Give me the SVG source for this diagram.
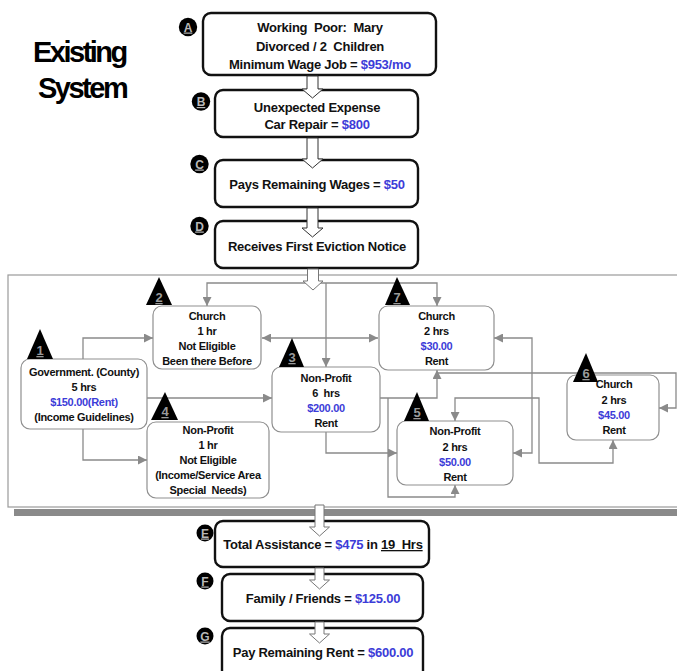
<svg xmlns="http://www.w3.org/2000/svg" width="677" height="671" viewBox="0 0 677 671">
<style>
text{font-family:"Liberation Sans",Arial,sans-serif;font-weight:bold;fill:#111;text-anchor:middle}
.t{font-size:13px;letter-spacing:-0.25px}
.n{font-size:11px;letter-spacing:-0.3px}
.b{fill:#3c3cd8}
.box{fill:#fff;stroke:#111;stroke-width:2.4}
.node{fill:#fff;stroke:#8f8f8f;stroke-width:1.2}
.con{fill:none;stroke:#8a8a8a;stroke-width:1.3}
.ba1{fill:#fff;stroke:#333;stroke-width:1}
.ba2{fill:#fff;stroke:#777;stroke-width:1}
.tri{fill:#000}
.num{font-size:13px;fill:#9a9a9a;text-decoration:underline}
.circ{fill:#000}
.let{font-size:12px;fill:#b8b8b8;text-decoration:underline}
.title{font-size:29px;letter-spacing:-2.5px;text-anchor:start;fill:#000}
</style>
<defs>
<marker id="ah" viewBox="0 0 10 10" refX="10" refY="5" markerWidth="9" markerHeight="9" markerUnits="userSpaceOnUse" orient="auto-start-reverse"><path d="M0,0 L10,5 L0,10 z" fill="#8a8a8a"/></marker>
</defs>
<rect width="677" height="671" fill="#fff"/>
<g id="title">
<text class="title" x="33" y="62">Existing</text>
<text class="title" x="38" y="98">System</text>
</g>
<g id="container">
<rect x="8" y="275" width="680" height="232" fill="none" stroke="#9a9a9a" stroke-width="1.2"/>
<rect x="14" y="509" width="670" height="7" fill="#8a8a8a"/>
</g>
<g id="connectors">
<path class="con" d="M207,306 V283 H437 V306" marker-start="url(#ah)" marker-end="url(#ah)"/>
<path class="con" d="M326,283 V367" marker-end="url(#ah)"/>
<path class="con" d="M262,338 H378" marker-start="url(#ah)" marker-end="url(#ah)"/>
<path class="con" d="M83,359 V338 H153" marker-end="url(#ah)"/>
<path class="con" d="M147,398 H272" marker-end="url(#ah)"/>
<path class="con" d="M83,429 V460 H147" marker-end="url(#ah)"/>
<path class="con" d="M494,338 H532 V453 H513" marker-start="url(#ah)" marker-end="url(#ah)"/>
<path class="con" d="M380,398 H437 V370" marker-end="url(#ah)"/>
<path class="con" d="M388,398 V497 H455 V485" marker-end="url(#ah)"/>
<path class="con" d="M326,432 V453 H397" marker-end="url(#ah)"/>
<path class="con" d="M455,421 V398 H539 V463 H613 V440" marker-start="url(#ah)" marker-end="url(#ah)"/>
<path class="con" d="M437,373 H676 V408 H659" marker-end="url(#ah)"/>
</g>
<g id="node1">
<rect class="node" x="21" y="359" width="126" height="70" rx="9"/>
<text class="n" x="84" y="376">Government. (County)</text>
<text class="n" x="84" y="391">5 hrs</text>
<text class="n b" x="84" y="406">$150.00(Rent)</text>
<text class="n" x="84" y="421">(Income Guidelines)</text>
<path class="tri" d="M40,329 L53,359 L27,359 z"/>
<text class="num" x="40" y="355">1</text>
</g>
<g id="node2">
<rect class="node" x="153" y="306" width="108" height="63" rx="9"/>
<text class="n" x="207" y="320">Church</text>
<text class="n" x="207" y="335">1 hr</text>
<text class="n" x="207" y="350">Not Eligible</text>
<text class="n" x="207" y="365">Been there Before</text>
<path class="tri" d="M159,277 L172,305 L146,305 z"/>
<text class="num" x="159" y="302">2</text>
</g>
<g id="node3">
<rect class="node" x="272" y="367" width="108" height="65" rx="9"/>
<text class="n" x="326" y="382">Non-Profit</text>
<text class="n" x="326" y="397">6&#160; hrs</text>
<text class="n b" x="326" y="412">$200.00</text>
<text class="n" x="326" y="427">Rent</text>
<path class="tri" d="M292,338 L304,367 L279,367 z"/>
<text class="num" x="292" y="362">3</text>
</g>
<g id="node4">
<rect class="node" x="147" y="422" width="122" height="76" rx="9"/>
<text class="n" x="208" y="434">Non-Profit</text>
<text class="n" x="208" y="449">1 hr</text>
<text class="n" x="208" y="464">Not Eligible</text>
<text class="n" x="208" y="479">(Income/Service Area</text>
<text class="n" x="208" y="494">Special&#160; Needs)</text>
<path class="tri" d="M165,392 L178,420 L151,420 z"/>
<text class="num" x="165" y="416">4</text>
</g>
<g id="node5">
<rect class="node" x="397" y="421" width="116" height="64" rx="9"/>
<text class="n" x="455" y="435">Non-Profit</text>
<text class="n" x="455" y="450.5">2 hrs</text>
<text class="n b" x="455" y="466">$50.00</text>
<text class="n" x="455" y="481">Rent</text>
<path class="tri" d="M417,392 L429,421 L404,421 z"/>
<text class="num" x="417" y="417">5</text>
</g>
<g id="node6">
<rect class="node" x="567" y="375" width="92" height="65" rx="9"/>
<text class="n" x="614" y="388">Church</text>
<text class="n" x="614" y="404">2 hrs</text>
<text class="n b" x="614" y="419">$45.00</text>
<text class="n" x="614" y="434">Rent</text>
<path class="tri" d="M586,353 L598,382 L573,382 z"/>
<text class="num" x="586" y="378">6</text>
</g>
<g id="node7">
<rect class="node" x="379" y="306" width="115" height="64" rx="9"/>
<text class="n" x="436.5" y="320">Church</text>
<text class="n" x="436.5" y="335">2 hrs</text>
<text class="n b" x="436.5" y="350">$30.00</text>
<text class="n" x="436.5" y="365">Rent</text>
<path class="tri" d="M397,277 L410,305 L385,305 z"/>
<text class="num" x="397" y="302">7</text>
</g>
<g id="stepA">
<rect class="box" x="203" y="13" width="233" height="62" rx="8"/>
<text class="t" x="320" y="32" xml:space="preserve">Working  Poor:  Mary</text>
<text class="t" x="320" y="50.5" xml:space="preserve">Divorced / 2  Children</text>
<text class="t" x="320" y="69">Minimum Wage Job = <tspan class="b">$953/mo</tspan></text>
<circle class="circ" cx="188" cy="27" r="9.2"/>
<text class="let" x="188" y="31.5">A</text>
</g>
<g id="stepB">
<rect class="box" x="215" y="90" width="203" height="47" rx="8"/>
<text class="t" x="317" y="112">Unexpected Expense</text>
<text class="t" x="317" y="129">Car Repair = <tspan class="b">$800</tspan></text>
<circle class="circ" cx="201" cy="101.5" r="9.2"/>
<text class="let" x="201" y="106">B</text>
</g>
<g id="stepC">
<rect class="box" x="215" y="160" width="203" height="47" rx="8"/>
<text class="t" x="317" y="189">Pays Remaining Wages = <tspan class="b">$50</tspan></text>
<circle class="circ" cx="199.5" cy="164" r="9.2"/>
<text class="let" x="199.5" y="168.5">C</text>
</g>
<g id="stepD">
<rect class="box" x="215" y="221" width="203" height="47" rx="8"/>
<text class="t" x="317" y="251">Receives First Eviction Notice</text>
<circle class="circ" cx="199.5" cy="226" r="9.2"/>
<text class="let" x="199.5" y="230.5">D</text>
</g>
<g id="stepE">
<rect class="box" x="215" y="521" width="214" height="46" rx="8"/>
<text class="t" x="323" y="549" xml:space="preserve">Total Assistance = <tspan class="b">$475</tspan> in <tspan text-decoration="underline">19  Hrs</tspan></text>
<circle class="circ" cx="205" cy="533" r="8.5"/>
<text class="let" x="205" y="537.5">E</text>
</g>
<g id="stepF">
<rect class="box" x="222" y="574" width="201" height="47" rx="8"/>
<text class="t" x="323" y="603">Family / Friends = <tspan class="b">$125.00</tspan></text>
<circle class="circ" cx="205" cy="581" r="8.5"/>
<text class="let" x="205" y="585.5">F</text>
</g>
<g id="stepG">
<rect class="box" x="222" y="628" width="201" height="60" rx="8"/>
<text class="t" x="323" y="657">Pay Remaining Rent = <tspan class="b">$600.00</tspan></text>
<circle class="circ" cx="205" cy="636" r="8.5"/>
<text class="let" x="205" y="640.5">G</text>
</g>
<g id="flow-arrows">
<path class="ba1" d="M307,76 H318 V89 H323 L312.5,98 L302,89 H307 z"/>
<path class="ba1" d="M307,138 H318 V159 H323 L312.5,168 L302,159 H307 z"/>
<path class="ba1" d="M307,208 H318 V228 H323 L312.5,237 L302,228 H307 z"/>
<path class="ba2" d="M307.5,269 H318.5 V281 H323 L313,290 L303,281 H307.5 z"/>
<path class="ba2" d="M315,505 H324 V527 H329.5 L319.5,536 L309.5,527 H315 z"/>
<path class="ba2" d="M315,568 H324 V580 H329.5 L319.5,589 L309.5,580 H315 z"/>
<path class="ba2" d="M315,622 H324 V634 H329.5 L319.5,643 L309.5,634 H315 z"/>
</g>
</svg>
